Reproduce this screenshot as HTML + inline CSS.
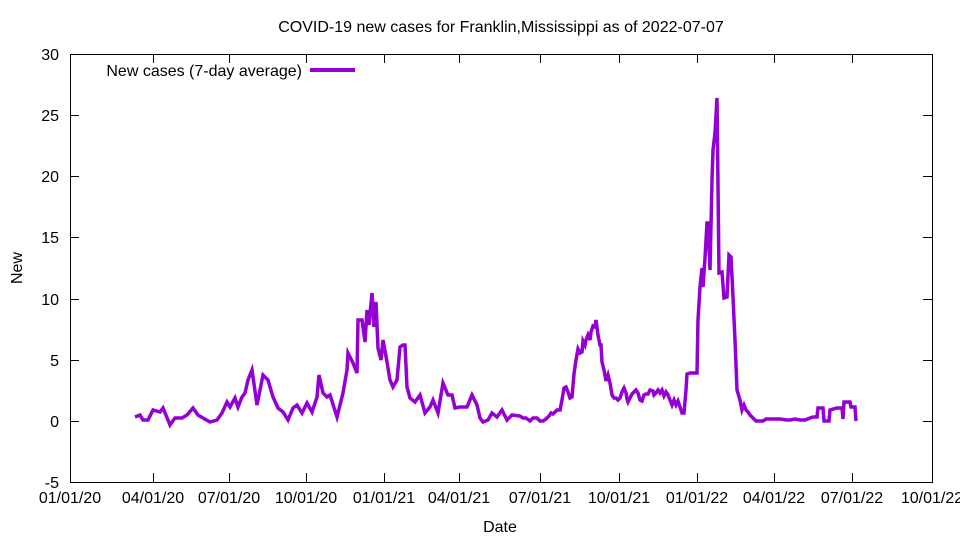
<!DOCTYPE html>
<html><head><meta charset="utf-8"><style>
body{margin:0;background:#fff}
svg text{font-family:"Liberation Sans",sans-serif;font-size:16px;fill:#000}
</style></head><body>
<svg width="960" height="540" viewBox="0 0 960 540" xmlns="http://www.w3.org/2000/svg">
<rect width="960" height="540" fill="#fff"/>
<text x="501" y="32" text-anchor="middle">COVID-19 new cases for Franklin,Mississippi as of 2022-07-07</text>
<g stroke="#000" stroke-width="1" fill="none">
<rect x="70.5" y="54.5" width="862" height="428"/>
<path d="M70 421.5h9M932 421.5h-9M70 360.5h9M932 360.5h-9M70 299.5h9M932 299.5h-9M70 237.5h9M932 237.5h-9M70 176.5h9M932 176.5h-9M70 115.5h9M932 115.5h-9"/>
<path d="M153.5 482v-9M153.5 54v9M229.5 482v-9M229.5 54v9M306.5 482v-9M306.5 54v9M384.5 482v-9M384.5 54v9M459.5 482v-9M459.5 54v9M540.5 482v-9M540.5 54v9M619.5 482v-9M619.5 54v9M697.5 482v-9M697.5 54v9M774.5 482v-9M774.5 54v9M852.5 482v-9M852.5 54v9"/>
</g>
<g text-anchor="end">
<text x="59" y="60">30</text><text x="59" y="121">25</text><text x="59" y="182">20</text><text x="59" y="243">15</text><text x="59" y="305">10</text><text x="59" y="366">5</text><text x="59" y="427">0</text><text x="59" y="488">-5</text>
</g>
<g text-anchor="middle">
<text x="70" y="503">01/01/20</text><text x="153" y="503">04/01/20</text><text x="229" y="503">07/01/20</text><text x="306" y="503">10/01/20</text><text x="384" y="503">01/01/21</text><text x="459" y="503">04/01/21</text><text x="540" y="503">07/01/21</text><text x="619" y="503">10/01/21</text><text x="697" y="503">01/01/22</text><text x="774" y="503">04/01/22</text><text x="852" y="503">07/01/22</text><text x="932" y="503">10/01/22</text>
<text x="500" y="532">Date</text>
</g>
<text x="22" y="268" text-anchor="middle" transform="rotate(-90 22 268)">New</text>
<text x="302" y="76" text-anchor="end">New cases (7-day average)</text>
<path d="M310 70H355" stroke="#9400d3" stroke-width="4"/>
<polyline fill="none" stroke="#9400d3" stroke-width="3.5" stroke-linejoin="miter" points="135,417 140,415 143,420 148,420 153,410 160,412 163,408 168,420 170,425 175,418 182,418 187,415 193,408 198,415 203,418 210,422 217,420 222,413 227,402 230,407 235,398 238,407 242,397 245,393 248,380 252,370 253,377 257,405 260,390 263,375 268,380 273,397 278,408 283,412 288,420 293,408 297,405 302,413 307,403 312,412 317,397 319,375 323,393 327,397 330,395 337,417 343,393 347,370 348,353 353,363 357,373 358,320 362,320 365,342 367,310 369,325 372,293 374,327 376,302 378,348 381,360 383,340 387,362 390,380 393,387 397,380 400,347 403,345 405,345 407,387 410,398 415,402 420,395 425,413 430,407 433,400 438,413 443,383 448,395 452,395 455,408 460,407 467,407 472,395 477,405 480,418 483,422 488,420 492,413 497,417 502,410 507,420 512,415 520,416 523,418 526,418 530,421 533,418 537,418 540,421 543,421 546,419 549,416 551,413 553,414 555,412 557,410 560,410 562,400 564,388 566,387 568,392 570,398 572,397 574,374 576,360 578,349 580,353 582,352 583,341 585,345 586,340 588,335 590,340 591,332 593,326 595,327 596,320 598,335 600,345 601,345 602,362 604,370 605,375 606,381 608,375 610,383 612,395 614,398 616,398 618,400 620,398 622,392 624,388 626,393 627,399 628,402 630,398 632,394 634,392 636,390 638,393 640,400 642,401 644,395 646,394 648,394 650,390 653,391 654,395 656,393 658,390 660,393 662,390 664,396 666,392 668,395 670,400 672,405 674,400 676,405 678,401 680,407 682,413 684,413 686,390 687,374 690,373 693,373 697,373 698,320 700,287 702,268 703,287 705,258 707,223 708,223 710,270 712,180 713,150 715,133 717,98 719,273 722,272 724,298 727,297 729,255 731,257 733,297 735,340 737,390 740,400 742,410 744,405 746,410 748,412 750,415 753,418 756,421 760,421 763,421 766,419 770,419 775,419 780,419 787,420 790,420 795,419 800,420 805,420 810,418 813,417 817,417 818,408 823,408 824,421 829,421 830,410 837,408 842,408 843,419 844,402 850,402 851,407 855,407 856,421"/>
</svg>
</body></html>
